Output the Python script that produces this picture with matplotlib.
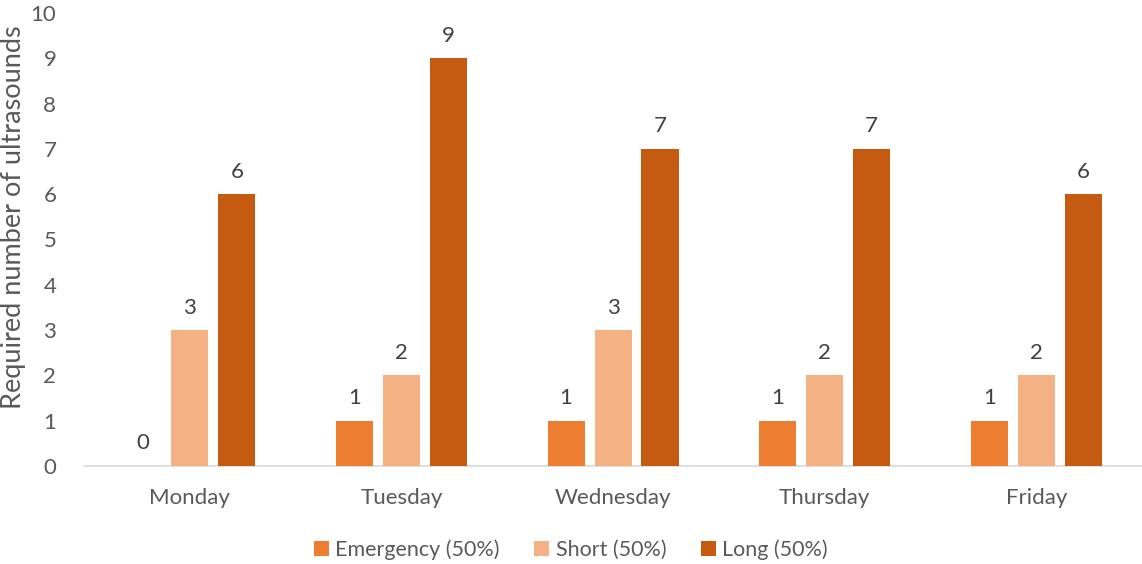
import matplotlib
matplotlib.use("Agg")
import matplotlib.pyplot as plt
import numpy as np

days = ["Monday", "Tuesday", "Wednesday", "Thursday", "Friday"]
series_names = ["Emergency (50%)", "Short (50%)", "Long (50%)"]
emergency = [0, 1, 1, 1, 1]
short = [3, 2, 3, 2, 2]
long_ = [6, 9, 7, 7, 6]
colors = ["#ED7D31", "#F4B183", "#C55A11"]

plt.rcParams["font.family"] = ["Lato", "DejaVu Sans"]
text_color = "#595959"

fig = plt.figure(figsize=(11.42, 5.64), dpi=100)
ax = fig.add_axes([0.0736, 0.1738, 0.9264, 0.8032])

x = np.arange(len(days))
width = 0.175
offset = 0.222
for i, (vals, name, c) in enumerate(zip([emergency, short, long_], series_names, colors)):
    pos = x + (i - 1) * offset
    bars = ax.bar(pos, vals, width=width, color=c, label=name, zorder=3)
    for b, v in zip(bars, vals):
        ax.annotate(f"{v}", (b.get_x() + b.get_width() / 2, v),
                    xytext=(0, 9), textcoords="offset points",
                    ha="center", va="bottom", fontsize=16, color="#404040")

ax.set_xlim(-0.5, len(days) - 0.5)
ax.set_ylim(0, 10)
ax.set_yticks(range(0, 11))
ax.set_xticks(x)
ax.set_xticklabels(days)
ax.tick_params(axis="both", length=0, labelsize=16, labelcolor=text_color)
ax.tick_params(axis="y", pad=20)
ax.tick_params(axis="x", pad=16)
for s in ["top", "right", "left"]:
    ax.spines[s].set_visible(False)
ax.spines["bottom"].set_color("#D9D9D9")
ax.spines["bottom"].set_linewidth(1.2)
ylab = ax.set_ylabel("Required number of ultrasounds", fontsize=19.5, color=text_color)
ylab.set_va("center")
ylab.set_ha("center")
ax.yaxis.set_label_coords(-0.0665, 0.55)

fig.legend(loc="center", bbox_to_anchor=(0.5, 0.025), ncol=3, frameon=False,
           fontsize=15.5, labelcolor=text_color, handlelength=0.7, handleheight=0.7,
           handletextpad=0.3, columnspacing=1.6)

fig.savefig("out.png", dpi=100)
